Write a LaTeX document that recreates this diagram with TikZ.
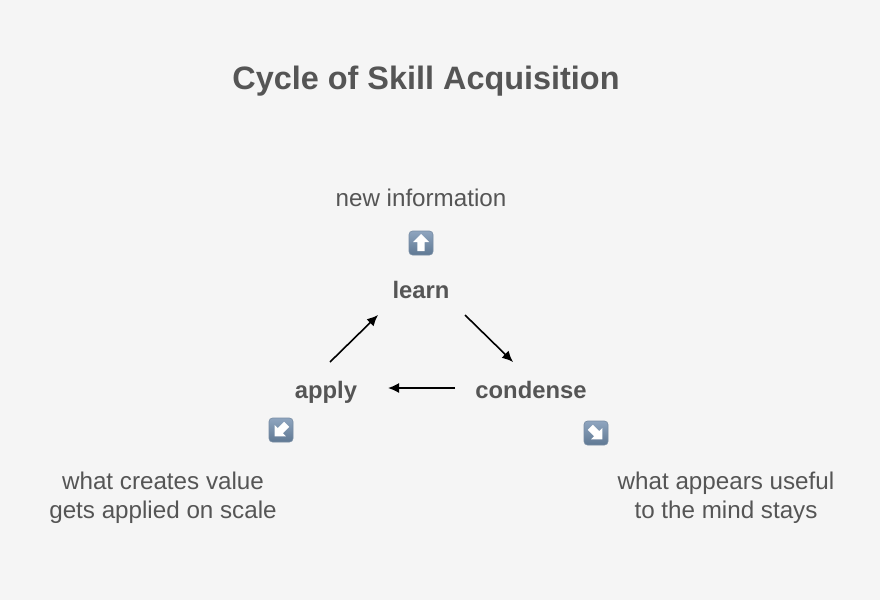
\documentclass[tikz,border=0pt]{standalone}
\usepackage{fontspec}
\setmainfont{Liberation Sans}
\usetikzlibrary{arrows.meta}
\definecolor{bgc}{HTML}{F5F5F5}
\definecolor{txt}{HTML}{555555}
\definecolor{icontop}{HTML}{8FA5BF}
\definecolor{iconbot}{HTML}{5F7893}
\newcommand{\px}[1]{\fontsize{#1}{#1}\selectfont}
\tikzset{
  x=1pt,y=-1pt,
  titlelabel/.style={text=txt,font=\px{32.4}\bfseries,inner sep=0pt,anchor=base},
  stagelabel/.style={text=txt,font=\px{23.8}\bfseries,inner sep=0pt,anchor=base},
  plainlabel/.style={text=txt,font=\px{24.2},inner sep=0pt,anchor=base},
  flow/.style={black,line width=1.6pt,-{Latex[length=11pt,width=10pt]}},
  iconbox/.style={rounded corners=3.5pt,top color=icontop,bottom color=iconbot,draw=iconbot!85!white,line width=0.6pt},
  iconarrow/.style={fill=white,draw=none},
  pics/keyicon/.style={code={
    \path[iconbox] (-12,-12) rectangle (12,12);
    \path[iconarrow,rotate=#1] (0,-9) -- (8,-1) -- (3.6,-1) -- (3.6,8) -- (-3.6,8) -- (-3.6,-1) -- (-8,-1) -- cycle;
  }}
}
\begin{document}
\begin{tikzpicture}
\useasboundingbox[fill=bgc] (0,0) rectangle (880,600);
\node[titlelabel] (title) at (426,89.5) {Cycle of Skill Acquisition};
\node[plainlabel] (info) at (421,206) {new information};
\pic (iconup) at (421,243) {keyicon=0};
\node[stagelabel] (learn) at (421,298) {learn};
\node[stagelabel] (apply) at (326,398) {apply};
\node[stagelabel] (condense) at (531,398) {condense};
\pic (icondl) at (281,430) {keyicon=135};
\pic (icondr) at (596,433) {keyicon=-135};
\node[plainlabel] (valuea) at (163,489) {what creates value};
\node[plainlabel] (valueb) at (163,518) {gets applied on scale};
\node[plainlabel] (usea) at (726,489) {what appears useful};
\node[plainlabel] (useb) at (726,518) {to the mind stays};
\coordinate (la) at (465,315);
\coordinate (lb) at (513,362);
\coordinate (ca) at (455,388);
\coordinate (cb) at (388,388);
\coordinate (aa) at (330,362);
\coordinate (ab) at (378,315);
\draw[flow] (la) -- (lb);
\draw[flow] (ca) -- (cb);
\draw[flow] (aa) -- (ab);
\end{tikzpicture}
\end{document}
